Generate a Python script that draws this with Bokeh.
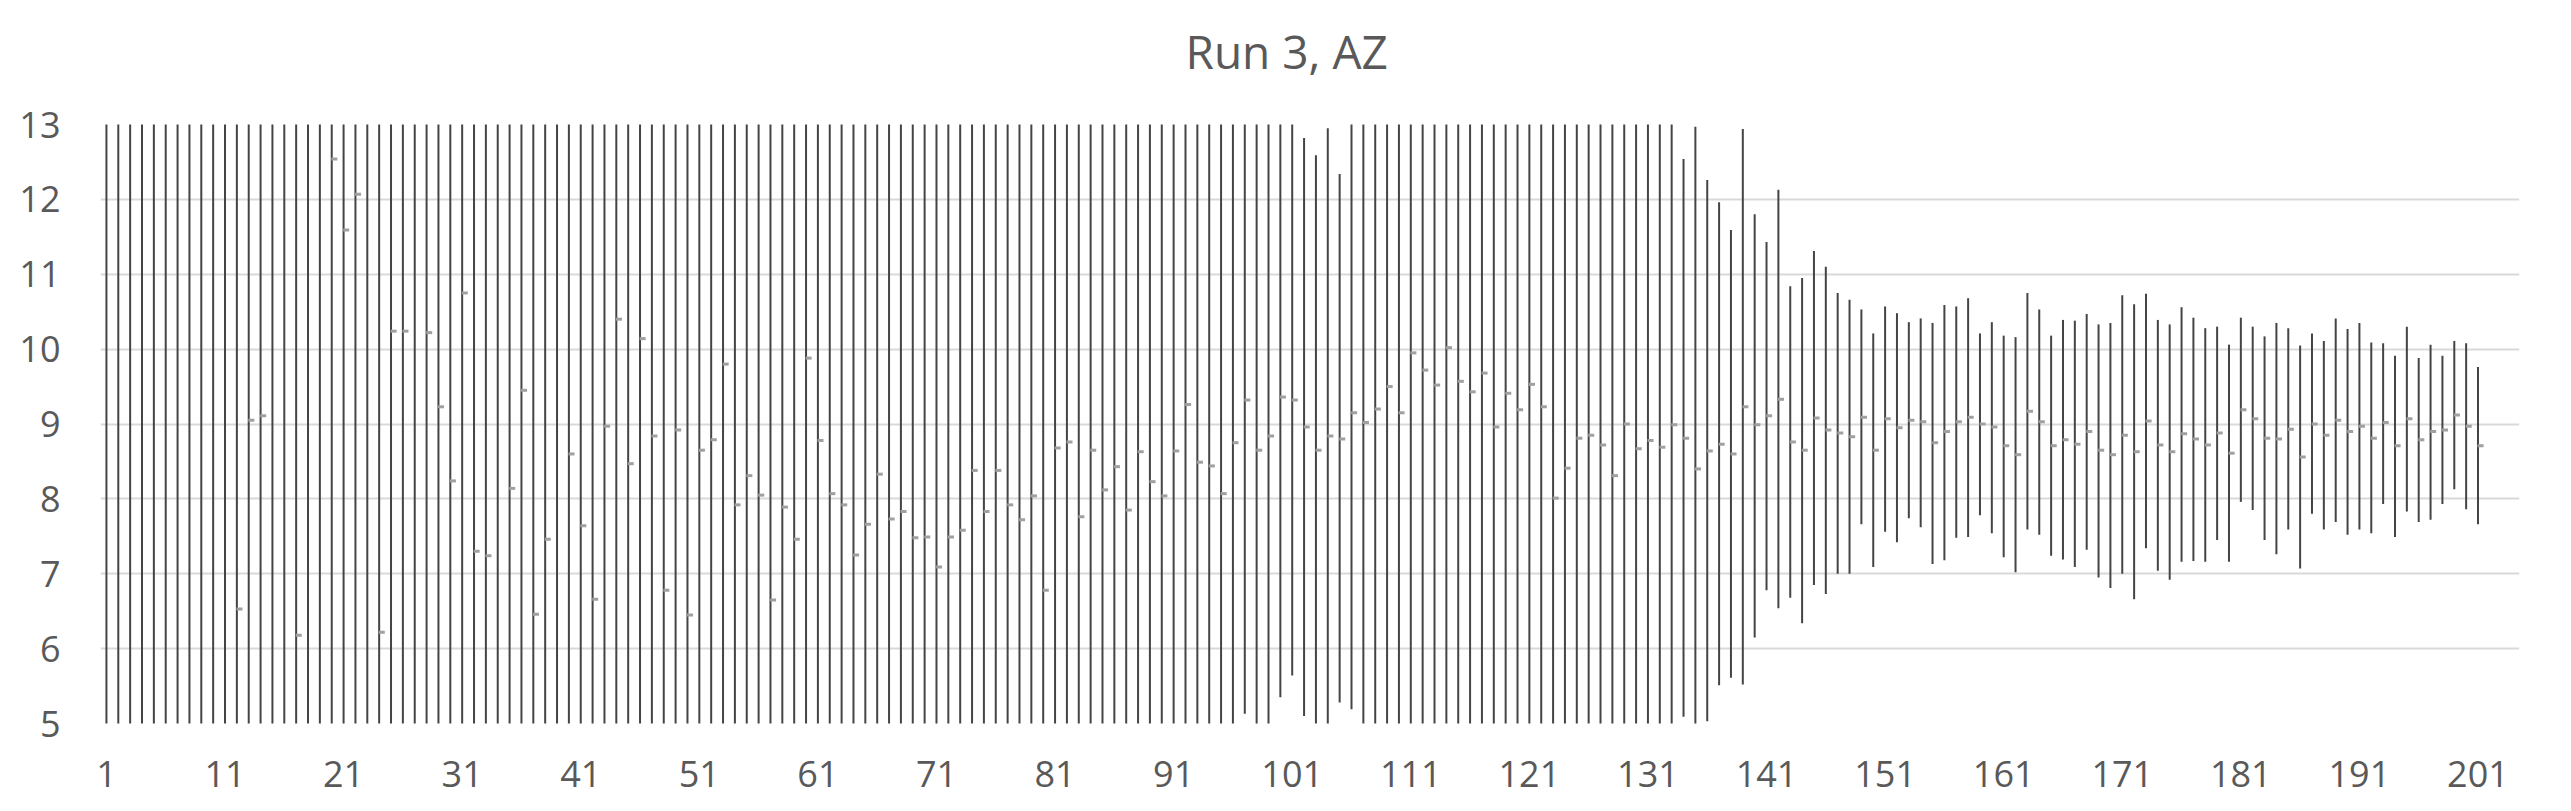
import numpy as np
from bokeh.plotting import figure
from bokeh.models import ColumnDataSource, Range1d, FixedTicker, LinearAxis
from bokeh.transform import dodge
from bokeh.embed import file_html
from bokeh.resources import INLINE

# ---------------- data ----------------
title_text = "Run 3, AZ"
categories = list(range(1, 202))

# high values (values above 13 are clipped by the axis)
high = [
    14, 14, 14, 14, 14, 14, 14, 14, 14, 14,
    14, 14, 14, 14, 14, 14, 14, 14, 14, 14,
    14, 14, 14, 14, 14, 14, 14, 14, 14, 14,
    14, 14, 14, 14, 14, 14, 14, 14, 14, 14,
    14, 14, 14, 14, 14, 14, 14, 14, 14, 14,
    14, 14, 14, 14, 14, 14, 14, 14, 14, 14,
    14, 14, 14, 14, 14, 14, 14, 14, 14, 14,
    14, 14, 14, 14, 14, 14, 14, 14, 14, 14,
    14, 14, 14, 14, 14, 14, 14, 14, 14, 14,
    14, 14, 14, 14, 14, 14, 14, 14, 14, 14,
    14, 12.82, 12.59, 12.95, 12.34, 14, 14, 14, 14, 14,
    14, 14, 14, 14, 14, 14, 14, 14, 14, 14,
    14, 14, 14, 14, 14, 14, 14, 14, 14, 14,
    14, 14, 14, 12.54, 12.97, 12.26, 11.96, 11.59, 12.94, 11.80,
    11.43, 12.13, 10.84, 10.95, 11.31, 11.10, 10.75, 10.66, 10.53, 10.21,
    10.57, 10.48, 10.36, 10.41, 10.35, 10.59, 10.57, 10.68, 10.21, 10.36,
    10.18, 10.16, 10.75, 10.53, 10.18, 10.39, 10.38, 10.47, 10.33, 10.35,
    10.72, 10.60, 10.74, 10.39, 10.33, 10.56, 10.42, 10.28, 10.30, 10.06,
    10.42, 10.30, 10.17, 10.35, 10.28, 10.05, 10.21, 10.11, 10.41, 10.27,
    10.35, 10.09, 10.08, 9.91, 10.30, 9.88, 10.06, 9.91, 10.11, 10.08,
    9.76,
]

# low values (values below 5 are clipped by the axis)
low = [
    4, 4, 4, 4, 4, 4, 4, 4, 4, 4,
    4, 4, 4, 4, 4, 4, 4, 4, 4, 4,
    4, 4, 4, 4, 4, 4, 4, 4, 4, 4,
    4, 4, 4, 4, 4, 4, 4, 4, 4, 4,
    4, 4, 4, 4, 4, 4, 4, 4, 4, 4,
    4, 4, 4, 4, 4, 4, 4, 4, 4, 4,
    4, 4, 4, 4, 4, 4, 4, 4, 4, 4,
    4, 4, 4, 4, 4, 4, 4, 4, 4, 4,
    4, 4, 4, 4, 4, 4, 4, 4, 4, 4,
    4, 4, 4, 4, 4, 4, 5.13, 4, 4, 5.35,
    5.64, 5.10, 4, 4, 5.28, 5.19, 4, 4, 4, 4,
    4, 4, 4, 4, 4, 4, 4, 4, 4, 4,
    4, 4, 4, 4, 4, 4, 4, 4, 4, 4,
    4, 4, 4, 5.09, 4, 5.03, 5.51, 5.61, 5.52, 6.15,
    6.78, 6.54, 6.68, 6.34, 6.85, 6.73, 7.00, 7.00, 7.66, 7.09,
    7.56, 7.42, 7.74, 7.62, 7.13, 7.18, 7.48, 7.49, 7.78, 7.54,
    7.22, 7.02, 7.59, 7.52, 7.24, 7.19, 7.09, 7.32, 6.95, 6.81,
    7.00, 6.66, 7.34, 7.04, 6.92, 7.16, 7.17, 7.16, 7.45, 7.16,
    7.96, 7.85, 7.45, 7.26, 7.59, 7.07, 7.80, 7.59, 7.69, 7.52,
    7.59, 7.54, 7.93, 7.49, 7.83, 7.69, 7.72, 7.93, 8.13, 7.86,
    7.66,
]

# close values (None = outside the visible 5..13 range)
close = [
    None, None, None, None, None, None, None, None, None, None,
    None, 6.53, 9.05, 9.11, None, None, 6.18, None, None, 12.54,
    11.59, 12.07, None, 6.22, 10.24, 10.24, None, 10.22, 9.23, 8.24,
    10.75, 7.30, 7.24, None, 8.14, 9.45, 6.46, 7.46, None, 8.60,
    7.64, 6.66, 8.97, 10.40, 8.47, 10.14, 8.84, 6.78, 8.92, 6.45,
    8.65, 8.79, 9.80, 7.92, 8.31, 8.05, 6.65, 7.89, 7.46, 9.88,
    8.78, 8.07, 7.92, 7.25, 7.66, 8.33, 7.73, 7.83, 7.48, 7.49,
    7.09, 7.49, 7.58, 8.38, 7.83, 8.38, 7.92, 7.72, 8.04, 6.78,
    8.68, 8.76, 7.76, 8.65, 8.12, 8.43, 7.85, 8.63, 8.23, 8.04,
    8.64, 9.26, 8.49, 8.44, 8.07, 8.75, 9.32, 8.65, 8.84, 9.36,
    9.32, 8.96, 8.65, 8.84, 8.80, 9.15, 9.02, 9.20, 9.50, 9.15,
    9.95, 9.72, 9.52, 10.02, 9.57, 9.43, 9.68, 8.96, 9.41, 9.19,
    9.53, 9.23, 8.01, 8.41, 8.81, 8.85, 8.72, 8.31, 9.00, 8.67,
    8.78, 8.69, 8.99, 8.81, 8.40, 8.64, 8.73, 8.60, 9.23, 8.99,
    9.11, 9.33, 8.76, 8.65, 9.08, 8.92, 8.88, 8.83, 9.09, 8.65,
    9.07, 8.95, 9.05, 9.03, 8.75, 8.90, 9.03, 9.09, 9.00, 8.96,
    8.71, 8.59, 9.17, 9.03, 8.71, 8.79, 8.73, 8.90, 8.65, 8.59,
    8.85, 8.63, 9.04, 8.72, 8.63, 8.87, 8.80, 8.72, 8.88, 8.61,
    9.19, 9.07, 8.81, 8.80, 8.93, 8.56, 9.00, 8.85, 9.05, 8.90,
    8.97, 8.81, 9.02, 8.71, 9.07, 8.79, 8.90, 8.92, 9.12, 8.97,
    8.71,
]

x_tick_labels = ["1", "11", "21", "31", "41", "51", "61", "71", "81", "91",
                 "101", "111", "121", "131", "141", "151", "161", "171",
                 "181", "191", "201"]
y_ticks = [5, 6, 7, 8, 9, 10, 11, 12, 13]

# ---------------- figure ----------------
FONT = "Open Sans"
TXT = "#595959"

src = ColumnDataSource(dict(
    x=categories,
    high=high,
    low=low,
    close=np.array([np.nan if v is None else v for v in close], dtype=float),
))

p = figure(width=2555, height=801, output_backend="svg", toolbar_location=None,
           x_range=Range1d(0.5, 204.5), y_range=Range1d(5, 13),
           min_border_left=100, min_border_right=36,
           min_border_top=124, min_border_bottom=78)
p.outline_line_color = None
p.background_fill_color = "white"
p.border_fill_color = "white"

# bottom and left axes (the ones created by figure)
xax = p.below[0]
yax = p.left[0]
tick_pos = [int(t) for t in x_tick_labels]

# invisible spacer between plot area and title: ticks exist (so the tick
# length reserves room) but neither tick lines nor labels are drawn
spacer = LinearAxis(ticker=FixedTicker(ticks=tick_pos), axis_line_color=None,
                    major_tick_line_color=None, minor_tick_line_color=None,
                    major_tick_in=0, major_tick_out=38, minor_tick_in=0,
                    minor_tick_out=0, major_label_text_color=None,
                    major_label_text_font_size="1px")
p.add_layout(spacer, "above")

p.title.text = title_text
p.title.text_font = FONT
p.title.text_font_size = "46px"
p.title.text_font_style = "normal"
p.title.text_color = TXT
p.title.align = "left"
p.title.offset = 1085
p.title.standoff = 10

p.segment(x0="x", y0="low", x1="x", y1="high", source=src,
          line_color="#444444", line_width=2)
p.scatter(x=dodge("x", 0.22, range=p.x_range), y="close", source=src,
          marker="dash", size=6, line_width=3, line_color="#a0a0a0",
          fill_color="#a0a0a0")

xax.ticker = FixedTicker(ticks=tick_pos)
xax.major_label_overrides = {pos: lab for pos, lab in zip(tick_pos, x_tick_labels)}
yax.ticker = FixedTicker(ticks=y_ticks)

for ax in (xax, yax):
    ax.axis_line_color = None
    ax.major_tick_line_color = None
    ax.minor_tick_line_color = None
    ax.major_tick_out = 0
    ax.major_tick_in = 0
    ax.minor_tick_out = 0
    ax.minor_tick_in = 0
    ax.major_label_text_font = FONT
    ax.major_label_text_font_size = "36px"
    ax.major_label_text_color = TXT

yax.major_label_standoff = 40
xax.major_label_standoff = 37

p.xgrid.grid_line_color = None
p.ygrid.grid_line_color = "#d9d9d9"
p.ygrid.grid_line_width = 2

open("out.html", "w").write(file_html(p, INLINE))
